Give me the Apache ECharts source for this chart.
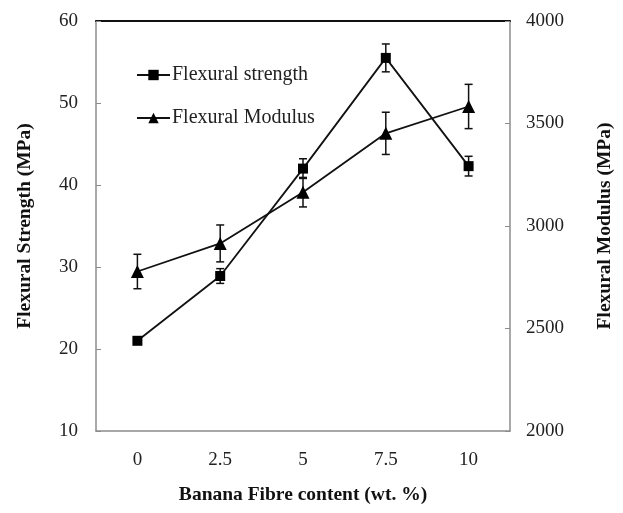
<!DOCTYPE html>
<html>
<head>
<meta charset="utf-8">
<script src="https://cdn.jsdelivr.net/npm/echarts@6/dist/echarts.min.js"></script>
<style>
  html, body { margin: 0; padding: 0; background: #fff; }
  #chart { width: 623px; height: 513px; }
</style>
</head>
<body>
<div id="chart"></div>
<script>
// Fibre loading (wt. %) on the x axis
const fibreContent = ['0', '2.5', '5', '7.5', '10'];

// Flexural strength (MPa), left axis, with its standard deviation
const strength = [21.0, 28.9, 42.0, 55.5, 42.3];
const strengthErr = [0.4, 0.9, 1.2, 1.7, 1.2];

// Flexural modulus (MPa), right axis, with its standard deviation
const modulus = [2778, 2915, 3165, 3452, 3583];
const modulusErr = [84, 90, 72, 103, 108];

const FONT = 'Liberation Serif';
const AXIS_GREY = '#8c8c8c';

const chart = echarts.init(document.getElementById('chart'), null, { renderer: 'canvas' });

// error bar renderer: vertical whisker with caps, mapped through the series' y axis
function errorBar(params, api) {
  const x = api.value(0);
  const lo = api.coord([x, api.value(1)]);
  const hi = api.coord([x, api.value(2)]);
  const cap = 4;
  const style = { stroke: '#111', lineWidth: 1.5 };
  return {
    type: 'group',
    children: [
      { type: 'line', shape: { x1: lo[0], y1: lo[1], x2: hi[0], y2: hi[1] }, style },
      { type: 'line', shape: { x1: lo[0] - cap, y1: lo[1], x2: lo[0] + cap, y2: lo[1] }, style },
      { type: 'line', shape: { x1: hi[0] - cap, y1: hi[1], x2: hi[0] + cap, y2: hi[1] }, style }
    ]
  };
}

const strengthBars = strength.map((v, i) => [i, v - strengthErr[i], v + strengthErr[i]]);
const modulusBars = modulus.map((v, i) => [i, v - modulusErr[i], v + modulusErr[i]]);

const tickLabel = { fontFamily: FONT, fontSize: 19, color: '#222' };
const titleText = { fontFamily: FONT, fontSize: 19.5, fontWeight: 'bold', color: '#111' };

chart.setOption({
  animation: false,
  backgroundColor: '#fff',
  grid: { left: 96, right: 110, top: 21, bottom: 82, containLabel: false },
  legend: {
    data: ['Flexural strength', 'Flexural Modulus'],
    orient: 'vertical',
    left: 131,
    top: 59,
    itemWidth: 33,
    itemHeight: 13,
    itemGap: 21,
    textStyle: { fontFamily: FONT, fontSize: 20, color: '#222', lineHeight: 22, padding: [0, 0, 0, -3] },
    inactiveColor: '#000'
  },
  xAxis: [
    {
      type: 'category',
      data: fibreContent,
      boundaryGap: true,
      name: 'Banana Fibre content (wt. %)',
      nameLocation: 'middle',
      nameGap: 54,
      nameTextStyle: titleText,
      axisLine: { lineStyle: { color: AXIS_GREY, width: 1.5 } },
      axisTick: { inside: true, alignWithLabel: true, length: 5, lineStyle: { color: AXIS_GREY } },
      axisLabel: Object.assign({ margin: 20 }, tickLabel),
      splitLine: { show: false }
    },
    {
      // dark frame line across the top of the plot
      type: 'category',
      data: fibreContent,
      position: 'top',
      axisLine: { lineStyle: { color: '#111', width: 2 } },
      axisTick: { show: false },
      axisLabel: { show: false },
      splitLine: { show: false }
    }
  ],
  yAxis: [
    {
      type: 'value',
      min: 10, max: 60, interval: 10,
      position: 'left',
      name: 'Flexural Strength (MPa)',
      nameLocation: 'middle',
      nameGap: 61,
      nameTextStyle: titleText,
      axisLine: { show: true, lineStyle: { color: AXIS_GREY, width: 1.5 } },
      axisTick: { show: true, inside: true, length: 5, lineStyle: { color: AXIS_GREY } },
      axisLabel: Object.assign({ margin: 18 }, tickLabel),
      splitLine: { show: false }
    },
    {
      type: 'value',
      min: 2000, max: 4000, interval: 500,
      position: 'right',
      name: 'Flexural Modulus (MPa)',
      nameLocation: 'middle',
      nameGap: 85,
      nameRotate: 90,
      nameTextStyle: titleText,
      axisLine: { show: true, lineStyle: { color: AXIS_GREY, width: 1.5 } },
      axisTick: { show: true, inside: true, length: 5, lineStyle: { color: AXIS_GREY } },
      axisLabel: Object.assign({ margin: 16, formatter: (v) => String(v) }, tickLabel),
      splitLine: { show: false }
    }
  ],
  series: [
    {
      name: 'Flexural strength',
      type: 'line',
      yAxisIndex: 0,
      data: strength,
      symbol: 'rect',
      symbolSize: 10,
      color: '#000',
      lineStyle: { color: '#111', width: 1.8 },
      itemStyle: { color: '#000' },
      z: 3
    },
    {
      name: 'Flexural Modulus',
      type: 'line',
      yAxisIndex: 1,
      data: modulus,
      symbol: 'triangle',
      symbolSize: 13,
      color: '#000',
      lineStyle: { color: '#111', width: 1.8 },
      itemStyle: { color: '#000' },
      z: 3
    },
    {
      type: 'custom',
      yAxisIndex: 0,
      renderItem: errorBar,
      data: strengthBars,
      encode: { x: 0, y: [1, 2] },
      z: 2
    },
    {
      type: 'custom',
      yAxisIndex: 1,
      renderItem: errorBar,
      data: modulusBars,
      encode: { x: 0, y: [1, 2] },
      z: 2
    }
  ]
});
</script>
</body>
</html>
